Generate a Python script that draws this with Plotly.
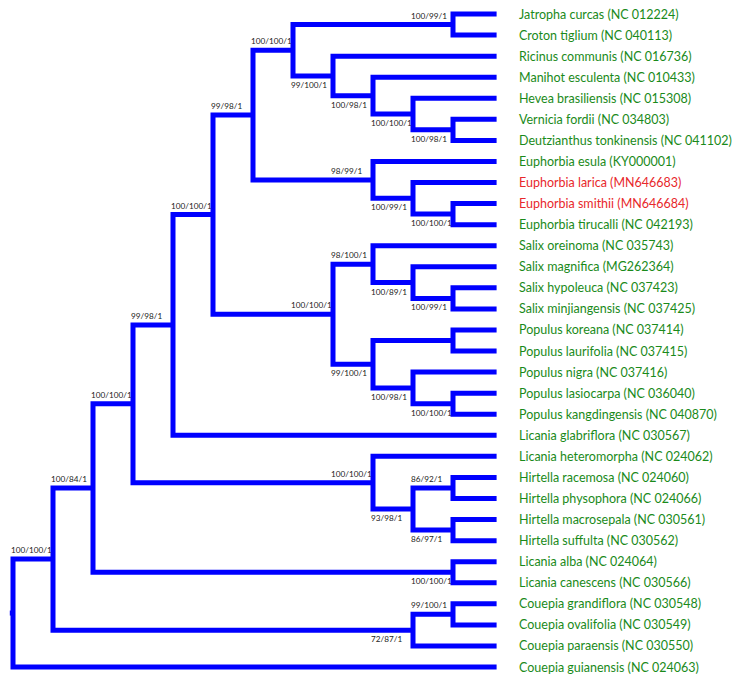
import plotly.graph_objects as go

# ---------------- data ----------------
taxa = [
    "Jatropha curcas (NC 012224)", "Croton tiglium (NC 040113)", "Ricinus communis (NC 016736)",
    "Manihot esculenta (NC 010433)", "Hevea brasiliensis (NC 015308)", "Vernicia fordii (NC 034803)",
    "Deutzianthus tonkinensis (NC 041102)", "Euphorbia esula (KY000001)", "Euphorbia larica (MN646683)",
    "Euphorbia smithii (MN646684)", "Euphorbia tirucalli (NC 042193)", "Salix oreinoma (NC 035743)",
    "Salix magnifica (MG262364)", "Salix hypoleuca (NC 037423)", "Salix minjiangensis (NC 037425)",
    "Populus koreana (NC 037414)", "Populus laurifolia (NC 037415)", "Populus nigra (NC 037416)",
    "Populus lasiocarpa (NC 036040)", "Populus kangdingensis (NC 040870)", "Licania glabriflora (NC 030567)",
    "Licania heteromorpha (NC 024062)", "Hirtella racemosa (NC 024060)", "Hirtella physophora (NC 024066)",
    "Hirtella macrosepala (NC 030561)", "Hirtella suffulta (NC 030562)", "Licania alba (NC 024064)",
    "Licania canescens (NC 030566)", "Couepia grandiflora (NC 030548)", "Couepia ovalifolia (NC 030549)",
    "Couepia paraensis (NC 030550)", "Couepia guianensis (NC 024063)",
]
new_taxa = ["Euphorbia larica (MN646683)", "Euphorbia smithii (MN646684)"]

# internal nodes (cladogram level, children = node names or taxon indices, support, label side)
node_names = ["X", "W", "U", "T", "Q", "P", "J", "F", "A", "E", "D", "C", "B", "I", "H", "G",
              "O", "L", "K", "Ks", "N", "Np", "M", "Mp", "S", "R", "Ra", "Rb", "Lic", "V", "Vc"]
node_depth = [0, 1, 2, 3, 4, 5, 6, 7, 11, 8, 9, 10, 11, 9, 10, 11,
              8, 9, 10, 11, 9, 11, 10, 11, 9, 10, 11, 11, 11, 10, 11]
node_children = [["W", 31], ["U", "V"], ["T", "Lic"], ["Q", "S"], ["P", 20], ["J", "O"], ["F", "I"],
                 ["A", "E"], [0, 1], [2, "D"], [3, "C"], [4, "B"], [5, 6], [7, "H"], [8, "G"], [9, 10],
                 ["L", "N"], [11, "K"], [12, "Ks"], [13, 14], ["Np", "M"], [15, 16], [17, "Mp"], [18, 19],
                 [21, "R"], ["Ra", "Rb"], [22, 23], [24, 25], [26, 27], ["Vc", 30], [28, 29]]
node_support = ["", "100/100/1", "100/84/1", "100/100/1", "99/98/1", "100/100/1", "99/98/1",
                "100/100/1", "100/99/1", "99/100/1", "100/98/1", "100/100/1", "100/98/1", "98/99/1",
                "100/99/1", "100/100/1", "100/100/1", "98/100/1", "100/89/1", "100/99/1", "99/100/1",
                "", "100/98/1", "100/100/1", "100/100/1", "93/98/1", "86/92/1", "86/97/1",
                "100/100/1", "72/87/1", "99/100/1"]
node_side = ["", "above", "above", "above", "above", "above", "above", "above", "above", "below",
             "below", "below", "below", "above", "below", "below", "above", "above", "below", "below",
             "below", "", "below", "below", "above", "below", "above", "below", "below", "below", "above"]
tip_depth = 12.09

# ---------------- style ----------------
BRANCH = "#0000FF"
GREEN = "#1a8a1a"
RED = "#e8282c"
LEAF_FONT = "Lato"
SUPPORT_FONT = "Lato"

# ---------------- layout computation ----------------
nodes = {n: (d, c, s, side) for n, d, c, s, side in
         zip(node_names, node_depth, node_children, node_support, node_side)}


def pos(ref):
    if isinstance(ref, int):
        return tip_depth, float(ref)
    d, ch, _, _ = nodes[ref]
    ys = [pos(c)[1] for c in ch]
    return float(d), (min(ys) + max(ys)) / 2.0


xs, ys = [], []
for n in node_names:
    d, ch, _, _ = nodes[n]
    (x1, y1), (x2, y2) = pos(ch[0]), pos(ch[1])
    xs += [x1, d, d, x2, None]
    ys += [y1, y1, y2, y2, None]

# root stub
rx, ry = pos("X")
xs += [rx - 0.08, rx, None]
ys += [ry, ry, None]

fig = go.Figure()
fig.add_trace(go.Scatter(x=xs, y=ys, mode="lines",
                         line=dict(color=BRANCH, width=5), hoverinfo="skip", showlegend=False))

annotations = []
for n in node_names:
    d, ch, s, side = nodes[n]
    if not s:
        continue
    x, y = pos(n)
    annotations.append(dict(x=x, y=y, xref="x", yref="y", text=s, showarrow=False,
                            xanchor="left", yanchor="middle", xshift=-44,
                            yshift=9 if side == "above" else -9,
                            font=dict(family=SUPPORT_FONT, size=8.2, color="#222222")))

for i, t in enumerate(taxa):
    annotations.append(dict(x=tip_depth, y=i, xref="x", yref="y", text=t, showarrow=False,
                            xanchor="left", yanchor="middle", xshift=20,
                            font=dict(family=LEAF_FONT, size=12.5,
                                      color=RED if t in new_taxa else GREEN)))

W, H = 749, 682
px_per_level, x0_px = 40.0, 13.0
px_per_leaf, y0_px = 21.065, 14.0
fig.update_layout(
    width=W, height=H, margin=dict(l=0, r=0, t=0, b=0),
    plot_bgcolor="white", paper_bgcolor="white",
    xaxis=dict(visible=False, range=[-x0_px / px_per_level, (W - x0_px) / px_per_level]),
    yaxis=dict(visible=False, range=[(H - y0_px) / px_per_leaf, -y0_px / px_per_leaf]),
    annotations=annotations,
)

# remove the default 8px page margin so the figure fills the window exactly
fig.write_html("out.html", config={"displayModeBar": False},
               post_script="document.body.style.margin='0px';")
